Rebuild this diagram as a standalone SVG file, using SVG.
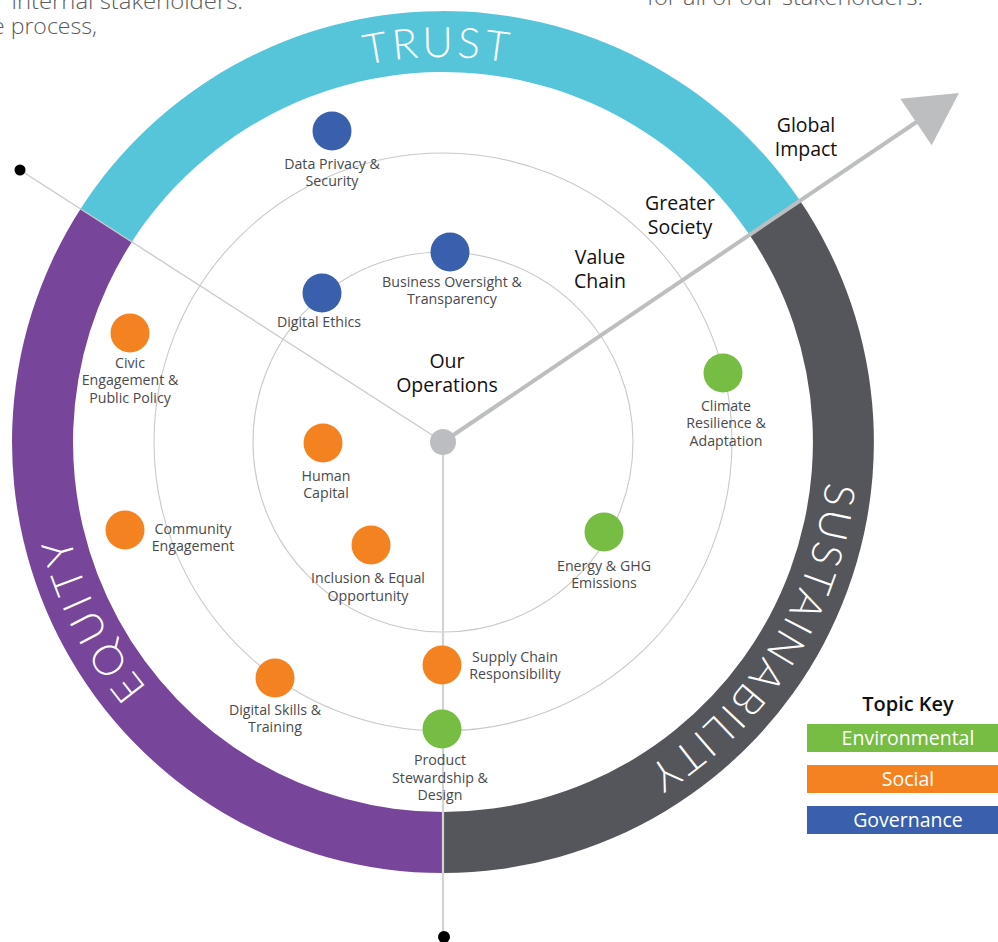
<svg xmlns="http://www.w3.org/2000/svg" width="998" height="942" viewBox="0 0 998 942">
<style>
.guide{fill:none;stroke:#c9c9c9;stroke-width:1.1}
.lbl{font-family:"Open Sans","Liberation Sans",sans-serif;font-size:14.2px;fill:#4a4a4c;text-anchor:middle}
.lvl{font-family:"Open Sans","Liberation Sans",sans-serif;font-size:19.5px;font-weight:500;fill:#111;text-anchor:middle}
.band{font-family:"Lato","Open Sans",sans-serif;font-weight:300;font-size:42px;fill:#fff}
.top{font-family:"Open Sans","Liberation Sans",sans-serif;font-size:22.5px;font-weight:300;fill:#5b5c5e}
.key{font-family:"Open Sans","Liberation Sans",sans-serif;font-size:19.5px;fill:#fff;text-anchor:middle}
.env{fill:#77bc43}.soc{fill:#f58220}.gov{fill:#3a5fad}
</style>
<defs>
<path id="pTrust" d="M 106.3,255.4 A 385 385 0 0 1 773.0,243.7"/>
<path id="pSust" d="M 782.9,261.2 A 385 385 0 0 1 429.6,826.8"/>
<path id="pEq" d="M 422.9,826.5 A 385 385 0 0 1 120.1,232.3"/>
</defs>
<rect width="998" height="942" fill="#fff"/>
<text class="top" x="-4" y="9" textLength="247" lengthAdjust="spacingAndGlyphs">r internal stakeholders.</text>
<text class="top" x="-8" y="34" textLength="105" lengthAdjust="spacingAndGlyphs">e process,</text>
<text class="top" x="647" y="5" textLength="276" lengthAdjust="spacingAndGlyphs">for all of our stakeholders.</text>

<g id="guides">
<circle class="guide" cx="443" cy="442" r="190"/>
<circle class="guide" cx="443" cy="442" r="289"/>
</g>

<g id="ring">
<path id="trust" d="M 80.5,208.9 A 431 431 0 0 1 799.4,199.8 L 749.0,234.1 A 370 370 0 0 0 131.8,241.9 Z" fill="#56c5da"/>
<path id="sustainability" d="M 799.4,199.8 A 431 431 0 0 1 443,873 L 443,812 A 370 370 0 0 0 749.0,234.1 Z" fill="#55565b"/>
<path id="equity" d="M 443,873 A 431 431 0 0 1 80.5,208.9 L 131.8,241.9 A 370 370 0 0 0 443,812 Z" fill="#77459a"/>
<text class="band"><textPath href="#pTrust" startOffset="50%" text-anchor="middle" textLength="142" lengthAdjust="spacing">TRUST</textPath></text>
<text class="band"><textPath href="#pSust" startOffset="50%" text-anchor="middle" textLength="350" lengthAdjust="spacing">SUSTAINABILITY</textPath></text>
<text class="band"><textPath href="#pEq" startOffset="50%" text-anchor="middle" textLength="172" lengthAdjust="spacing">EQUITY</textPath></text>
</g>

<g id="connectors">
<line x1="20" y1="170" x2="443" y2="442" stroke="#c9c9c9" stroke-width="1.3"/>
<line x1="443" y1="442" x2="443" y2="937" stroke="#d3d3d3" stroke-width="2.2"/>
<line x1="443" y1="442" x2="921" y2="119" stroke="#bdbec0" stroke-width="4"/>
<polygon points="959,93 931.7,145.2 900.3,98.8" fill="#bdbec0"/>
<circle cx="20" cy="170" r="5.5" fill="#000"/>
<circle cx="444" cy="937" r="6" fill="#000"/>
<circle cx="443" cy="442" r="13" fill="#bcbdc0"/>
</g>

<g id="levels">
<text class="lvl" x="447" y="368">Our</text><text class="lvl" x="447" y="392">Operations</text>
<text class="lvl" x="600" y="264">Value</text><text class="lvl" x="600" y="288">Chain</text>
<text class="lvl" x="680" y="210">Greater</text><text class="lvl" x="680" y="234">Society</text>
<text class="lvl" x="806" y="132">Global</text><text class="lvl" x="806" y="156">Impact</text>
</g>

<g id="data-privacy"><circle class="gov" cx="332" cy="131" r="19.5"/><text class="lbl" x="332" y="169">Data Privacy &amp;</text><text class="lbl" x="332" y="186">Security</text></g>
<g id="business-oversight"><circle class="gov" cx="450" cy="252" r="19.5"/><text class="lbl" x="452" y="287">Business Oversight &amp;</text><text class="lbl" x="452" y="304">Transparency</text></g>
<g id="digital-ethics"><circle class="gov" cx="322" cy="293" r="19.5"/><text class="lbl" x="319" y="327">Digital Ethics</text></g>
<g id="civic-engagement"><circle class="soc" cx="130" cy="333" r="19.5"/><text class="lbl" x="130" y="368">Civic</text><text class="lbl" x="130" y="385">Engagement &amp;</text><text class="lbl" x="130" y="403">Public Policy</text></g>
<g id="human-capital"><circle class="soc" cx="323" cy="443" r="19.5"/><text class="lbl" x="326" y="481">Human</text><text class="lbl" x="326" y="498">Capital</text></g>
<g id="community-engagement"><circle class="soc" cx="125" cy="530" r="19.5"/><text class="lbl" x="193" y="534">Community</text><text class="lbl" x="193" y="551">Engagement</text></g>
<g id="inclusion"><circle class="soc" cx="371" cy="545" r="19.5"/><text class="lbl" x="368" y="583">Inclusion &amp; Equal</text><text class="lbl" x="368" y="601">Opportunity</text></g>
<g id="energy-ghg"><circle class="env" cx="604" cy="532" r="19.5"/><text class="lbl" x="604" y="571">Energy &amp; GHG</text><text class="lbl" x="604" y="588">Emissions</text></g>
<g id="climate"><circle class="env" cx="723" cy="373" r="19.5"/><text class="lbl" x="726" y="411">Climate</text><text class="lbl" x="726" y="428">Resilience &amp;</text><text class="lbl" x="726" y="446">Adaptation</text></g>
<g id="supply-chain"><circle class="soc" cx="442" cy="665" r="19.5"/><text class="lbl" x="515" y="662">Supply Chain</text><text class="lbl" x="515" y="679">Responsibility</text></g>
<g id="digital-skills"><circle class="soc" cx="275" cy="678" r="19.5"/><text class="lbl" x="275" y="715">Digital Skills &amp;</text><text class="lbl" x="275" y="732">Training</text></g>
<g id="product-stewardship"><circle class="env" cx="442" cy="729" r="19.5"/><text class="lbl" x="440" y="765">Product</text><text class="lbl" x="440" y="783">Stewardship &amp;</text><text class="lbl" x="440" y="800">Design</text></g>

<g id="topic-key">
<text x="908" y="711" font-family="'Open Sans','Liberation Sans',sans-serif" font-size="20" font-weight="600" fill="#111" text-anchor="middle">Topic Key</text>
<rect class="env" x="807" y="724" width="191" height="28"/><text class="key" x="908" y="745">Environmental</text>
<rect class="soc" x="807" y="765" width="191" height="28"/><text class="key" x="908" y="786">Social</text>
<rect class="gov" x="807" y="806" width="191" height="28"/><text class="key" x="908" y="827">Governance</text>
</g>
</svg>
